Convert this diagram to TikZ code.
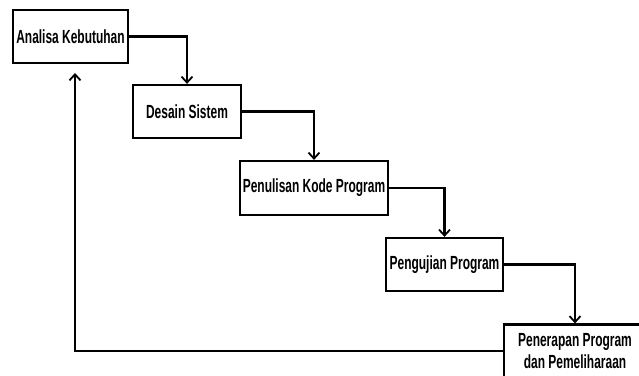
\documentclass[tikz,border=0pt]{standalone}
\usepackage{fontspec}
\setmainfont{Liberation Sans}[FakeStretch=0.63]
\usetikzlibrary{arrows.meta}

\begin{document}
\begin{tikzpicture}[x=1pt,y=-1pt]
\tikzstyle{every node}+=[inner sep=0pt]
\tikzstyle{stage}=[draw=black, line width=2.2pt, fill=white, align=center, font=\fontsize{19}{22}\selectfont\bfseries]
\tikzstyle{flow}=[black, line width=2.2pt, -{Straight Barb[length=6pt,width=11pt,line width=1.8pt]}]
\useasboundingbox (0,0) rectangle (639,375);
\clip (0,0) rectangle (639,375);
\fill [white] (0,0) rectangle (639,375);
\node [stage, minimum width=115pt, minimum height=53pt] (analisa) at (70.5,36.5) {Analisa Kebutuhan};
\node [stage, minimum width=108pt, minimum height=53pt] (desain) at (187,111.5) {Desain Sistem};
\node [stage, minimum width=148pt, minimum height=54pt] (kode) at (314,188) {Penulisan Kode Program};
\node [stage, minimum width=117pt, minimum height=53pt] (uji) at (444.5,264.5) {Pengujian Program};
\node [stage, minimum width=142pt, minimum height=53pt] (terap) at (575,351) {Penerapan Program\\dan Pemeliharaan};
\coordinate (balik) at (75,73);
\draw [flow] (analisa.east) -| (desain.north);
\draw [flow] (desain.east) -| (kode.north);
\draw [flow] (kode.east) -| (uji.north);
\draw [flow] (uji.east) -| (terap.north);
\draw [flow] (terap.west) -| (balik);
\end{tikzpicture}
\end{document}
